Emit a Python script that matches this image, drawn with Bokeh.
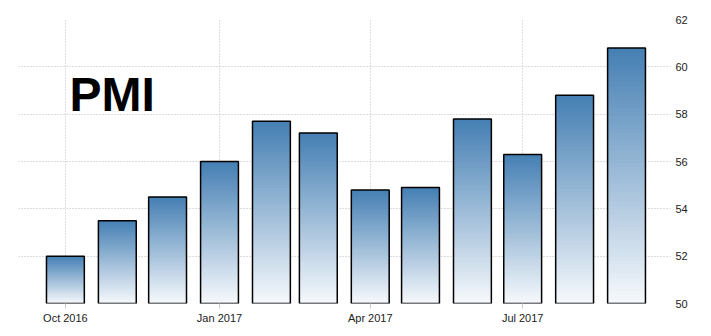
from datetime import datetime
from bokeh.plotting import figure
from bokeh.models import Range1d, FixedTicker, Label
from bokeh.embed import file_html
from bokeh.resources import INLINE

months = ["2016-10", "2016-11", "2016-12", "2017-01", "2017-02", "2017-03",
          "2017-04", "2017-05", "2017-06", "2017-07", "2017-08", "2017-09"]
pmi = [52.0, 53.5, 54.5, 56.0, 57.7, 57.2, 54.8, 54.9, 57.8, 56.3, 58.8, 60.8]
tick_dates = ["2016-10", "2017-01", "2017-04", "2017-07"]
tick_labels = ["Oct 2016", "Jan 2017", "Apr 2017", "Jul 2017"]
y_ticks = [50, 52, 54, 56, 58, 60, 62]

dates = [datetime.strptime(m, "%Y-%m") for m in months]
EPOCH = datetime(1970, 1, 1)
def ms(d):
    return (d - EPOCH).total_seconds() * 1000.0

p = figure(width=711, height=336, x_axis_type="datetime", y_axis_location="right",
           output_backend="svg", toolbar_location=None,
           x_range=Range1d(ms(datetime(2016, 9, 3)), ms(datetime(2017, 9, 27, 6))),
           y_range=Range1d(50, 62),
           min_border_left=18, min_border_right=41, min_border_top=19, min_border_bottom=33)
p.outline_line_color = None
p.background_fill_color = "white"
p.border_fill_color = "white"

bar_w = 22.6 * 86400000.0
top_c = (70, 128, 180)
bot_c = (248, 250, 253)
N = 60
for d, v in zip(dates, pmi):
    x0 = ms(d) - bar_w / 2
    x1 = ms(d) + bar_w / 2
    lefts, rights, tops, bottoms, colors = [], [], [], [], []
    for k in range(N, 0, -1):
        f = k / N
        c = tuple(int(round(bot_c[i] + (top_c[i] - bot_c[i]) * f)) for i in range(3))
        lefts.append(x0); rights.append(x1)
        bottoms.append(50); tops.append(50 + (v - 50) * f)
        colors.append("#%02x%02x%02x" % c)
    p.quad(left=lefts, right=rights, bottom=bottoms, top=tops,
           fill_color=colors, line_color=None)

p.vbar(x=[ms(d) for d in dates], top=pmi, bottom=50, width=bar_w,
       fill_color=None, line_color="black", line_width=1.5)

tick_ms = [ms(datetime.strptime(t, "%Y-%m")) for t in tick_dates]
p.xaxis.ticker = FixedTicker(ticks=tick_ms)
p.xaxis.major_label_overrides = {t: l for t, l in zip(tick_ms, tick_labels)}
p.yaxis.ticker = FixedTicker(ticks=y_ticks)

for ax in (p.xaxis, p.yaxis):
    ax.axis_line_color = None
    ax.minor_tick_line_color = None
    ax.major_label_text_font = "Liberation Sans"
    ax.major_label_text_font_size = "11px"
    ax.major_label_text_color = "#222222"
p.xaxis.major_tick_line_color = "#cccccc"
p.xaxis.major_tick_in = 0
p.xaxis.major_tick_out = 5
p.xaxis.major_label_standoff = 3
p.yaxis.major_tick_line_color = None
p.yaxis.major_tick_in = 0
p.yaxis.major_tick_out = 0
p.yaxis.major_label_standoff = 5

for g in (p.xgrid, p.ygrid):
    g.grid_line_color = "#bbbbbb"
    g.grid_line_dash = "1 2"
    g.grid_line_width = 1

title = Label(x=ms(datetime(2016, 10, 3, 12)), y=58.85, text="PMI",
              text_font="Liberation Sans", text_font_style="bold",
              text_font_size="48px", text_color="black", text_baseline="alphabetic")
p.add_layout(title)

open("out.html", "w").write(file_html(p, INLINE))
